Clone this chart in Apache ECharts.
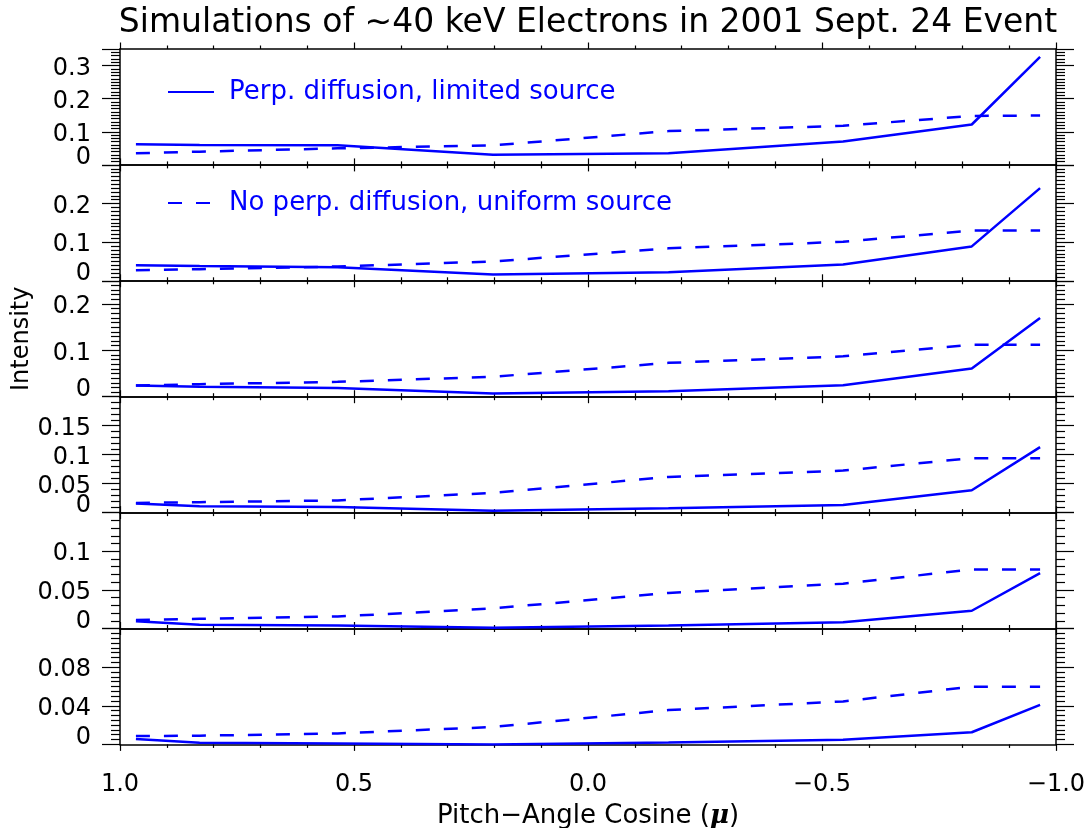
<!DOCTYPE html>
<html><head><meta charset="utf-8">
<script src="https://cdn.jsdelivr.net/npm/echarts@6/dist/echarts.min.js"></script>
<style>html,body{margin:0;padding:0;background:#fff}#c{width:1091px;height:828px}</style>
</head><body><div id="c"></div>
<script>
// Pitch-angle cosine sample points
const muValues = [0.966, 0.83, 0.535, 0.203, -0.172, -0.545, -0.82, -0.966];

// Solid: Perp. diffusion, limited source (panels top to bottom)
const solidP1 = [0.0625, 0.060, 0.059, 0.031, 0.035, 0.071, 0.122, 0.326];
const solidP2 = [0.040, 0.038, 0.035, 0.0166, 0.022, 0.042, 0.089, 0.240];
const solidP3 = [0.024, 0.0215, 0.019, 0.007, 0.012, 0.0245, 0.061, 0.170];
const solidP4 = [0.0155, 0.011, 0.0098, 0.003, 0.0074, 0.013, 0.0386, 0.113];
const solidP5 = [0.0095, 0.005, 0.004, 0.001, 0.004, 0.008, 0.023, 0.0717];
const solidP6 = [0.0055, 0.0017, 0.001, 0.0, 0.002, 0.0048, 0.0126, 0.041];

// Dashed: No perp. diffusion, uniform source
const dashedP1 = [0.035, 0.040, 0.050, 0.059, 0.102, 0.118, 0.148, 0.149];
const dashedP2 = [0.027, 0.030, 0.037, 0.050, 0.084, 0.101, 0.130, 0.130];
const dashedP3 = [0.024, 0.027, 0.032, 0.043, 0.073, 0.087, 0.112, 0.112];
const dashedP4 = [0.0166, 0.018, 0.021, 0.034, 0.0616, 0.0725, 0.094, 0.094];
const dashedP5 = [0.011, 0.0125, 0.0155, 0.026, 0.046, 0.058, 0.0764, 0.0764];
const dashedP6 = [0.0086, 0.009, 0.0114, 0.018, 0.0355, 0.0445, 0.0598, 0.0598];

// Y axis ranges / ticks per panel
const yMax = [0.35, 0.3, 0.25, 0.2, 0.15, 0.12];
const yStep = [0.1, 0.1, 0.1, 0.05, 0.05, 0.04];
const yMinorSplit = [10, 10, 10, 5, 5, 8];

const TITLE = 'Simulations of \u223C40 keV Electrons in 2001 Sept. 24 Event';
const NAME_SOLID = 'Perp. diffusion, limited source';
const NAME_DASHED = 'No perp. diffusion, uniform source';
const Y_NAME = 'Intensity';
const X_NAME = 'Pitch\u2212Angle Cosine ({mu|\u03BC})';

const FONT = 'DejaVu Sans';
const BLUE = '#0000ff';
const gridTop = 49, panelH = 115.9, gridLeft = 120, gridRight = 35;

const solidSets = [solidP1, solidP2, solidP3, solidP4, solidP5, solidP6];
const dashedSets = [dashedP1, dashedP2, dashedP3, dashedP4, dashedP5, dashedP6];

const grids = [], xAxes = [], yAxes = [], series = [];
const axisLineStyle = {color: '#000', width: 1.5};
const labelRich = {
  n: {fontSize: 24, color: '#000', fontFamily: FONT, padding: [6, 0, 0, 0]},
  z: {fontSize: 24, color: '#000', fontFamily: FONT, padding: [0, 0, 14, 0]}
};
for (let i = 0; i < 6; i++) {
  grids.push({left: gridLeft, right: gridRight, top: gridTop + i * panelH, height: panelH,
    containLabel: false, outerBoundsMode: 'none'});
  const last = i === 5;
  const xCommon = {
    type: 'value', gridIndex: i, min: -1, max: 1, interval: 0.5, inverse: true,
    axisLine: {show: true, onZero: false, lineStyle: axisLineStyle},
    axisTick: {show: true, inside: false, length: 6.5, lineStyle: {color: '#000', width: 1.2}},
    minorTick: {show: true, splitNumber: 5, length: 3.5, lineStyle: {color: '#000', width: 1.2}},
    splitLine: {show: false}, minorSplitLine: {show: false}
  };
  const bottomX = Object.assign({}, xCommon, {
    position: 'bottom',
    axisLabel: {show: last, fontSize: 24, color: '#000', fontFamily: FONT, margin: 28,
      formatter: v => v.toFixed(1).replace('-', '\u2212')}
  });
  if (last) {
    bottomX.name = X_NAME;
    bottomX.nameLocation = 'middle';
    bottomX.nameGap = 59;
    bottomX.nameTextStyle = {fontSize: 26, color: '#000', fontFamily: FONT,
      rich: {mu: {fontSize: 26, fontStyle: 'italic', fontWeight: 'bold', fontFamily: 'DejaVu Serif', color: '#000'}}};
  }
  xAxes.push(bottomX);
  xAxes.push(Object.assign({}, xCommon, {position: 'top', axisLabel: {show: false}}));

  const yScale = {type: 'value', gridIndex: i, min: 0, max: yMax[i], interval: yStep[i]};
  const yCommon = Object.assign({}, yScale, {
    axisLine: {show: true, onZero: false, lineStyle: axisLineStyle},
    axisTick: {show: true, inside: false, length: 18, lineStyle: {color: '#000', width: 1.2}},
    minorTick: {show: true, splitNumber: yMinorSplit[i], length: 9, lineStyle: {color: '#000', width: 1.2}},
    splitLine: {show: false}, minorSplitLine: {show: false}
  });
  // main left axis: labels except the zero and the top value
  const leftY = Object.assign({}, yCommon, {
    position: 'left',
    axisLabel: {show: true, fontSize: 24, color: '#000', fontFamily: FONT, margin: 29,
      showMaxLabel: false, showMinLabel: false, hideOverlap: false,
      formatter: v => '{n|' + parseFloat(v.toFixed(4)) + '}', rich: labelRich}
  });
  if (i === 2) {
    leftY.name = Y_NAME;
    leftY.nameLocation = 'middle';
    leftY.nameRotate = 90;
    leftY.nameGap = 86;
    leftY.nameTextStyle = {fontSize: 24, color: '#000', fontFamily: FONT};
  }
  yAxes.push(leftY);
  yAxes.push(Object.assign({}, yCommon, {position: 'right', axisLabel: {show: false}}));
  // companion left axis carrying only the raised "0" label (sits on the panel bottom)
  yAxes.push(Object.assign({}, yScale, {
    position: 'left',
    axisLine: {show: false, onZero: false}, axisTick: {show: false}, minorTick: {show: false},
    splitLine: {show: false}, minorSplitLine: {show: false},
    axisLabel: {show: true, fontSize: 24, color: '#000', fontFamily: FONT,
      margin: 29, showMinLabel: true, showMaxLabel: false, hideOverlap: false,
      formatter: v => (Math.abs(v) < 1e-9 ? '{z|0}' : ''), rich: labelRich}
  }));

  series.push({
    type: 'line', name: NAME_SOLID, xAxisIndex: 2 * i, yAxisIndex: 3 * i,
    data: muValues.map((m, k) => [m, solidSets[i][k]]),
    symbol: 'none', lineStyle: {color: BLUE, width: 2.5, type: 'solid'}, itemStyle: {color: BLUE},
    animation: false
  });
  series.push({
    type: 'line', name: NAME_DASHED, xAxisIndex: 2 * i, yAxisIndex: 3 * i,
    data: muValues.map((m, k) => [m, dashedSets[i][k]]),
    symbol: 'none', lineStyle: {color: BLUE, width: 2.5, type: [14, 14]}, itemStyle: {color: BLUE},
    animation: false
  });
}

const legendCommon = {
  left: 167, orient: 'horizontal', itemWidth: 46, itemHeight: 14, selectedMode: false, padding: 0,
  itemStyle: {color: 'rgba(0,0,0,0)', borderColor: 'rgba(0,0,0,0)', borderWidth: 0, opacity: 0},
  textStyle: {color: BLUE, fontSize: 26, fontFamily: FONT, padding: [0, 0, 0, 10]}
};

const option = {
  backgroundColor: '#fff',
  animation: false,
  textStyle: {fontFamily: FONT},
  title: {text: TITLE, left: 588, top: 7, textAlign: 'center', padding: 0,
    textStyle: {fontSize: 33, fontWeight: 'normal', color: '#000', fontFamily: FONT}},
  legend: [
    Object.assign({}, legendCommon, {top: 79, data: [NAME_SOLID]}),
    Object.assign({}, legendCommon, {top: 190, data: [NAME_DASHED]})
  ],
  grid: grids, xAxis: xAxes, yAxis: yAxes, series: series
};
const chart = echarts.init(document.getElementById('c'), null, {renderer: 'canvas'});
chart.setOption(option);
</script></body></html>
